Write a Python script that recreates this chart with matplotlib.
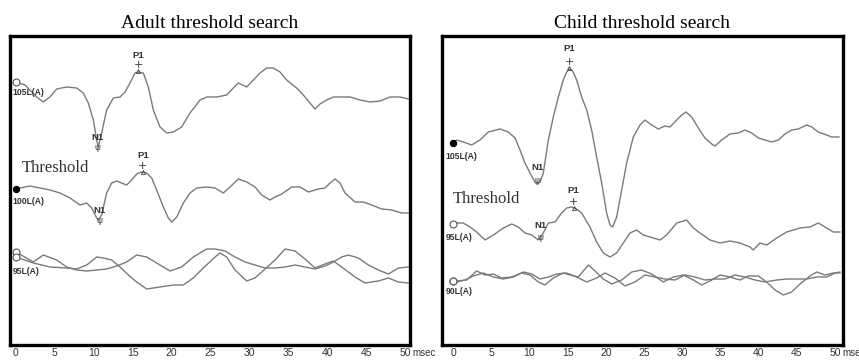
import matplotlib.pyplot as plt

# ---- adult panel (latency in ms, amplitude in arbitrary display units) ----
adult105_t = [0, 1.16, 2.66, 3.51, 4.37, 5.23, 6.51, 7.80, 8.65, 9.30, 9.94, 10.37, 10.58, 11.01,
              11.65, 12.51, 13.37, 14.01, 14.65, 15.30, 15.72, 16.37, 17.01, 17.65, 18.51, 19.37,
              20.22, 21.29, 22.37, 23.65, 24.51, 25.79, 27.08, 27.93, 28.58, 29.65, 30.51, 31.36,
              32.22, 33.08, 33.93, 34.79, 36.07, 36.93, 37.79, 38.43, 39.07, 39.93, 40.79, 41.65,
              42.93, 44.22, 45.50, 46.79, 48.07, 49.36, 50.43]
adult105_v = [278, 275, 263, 258, 263, 271, 273, 272, 267, 257, 240, 220, 213, 227,
              250, 262, 263, 268, 277, 287, 288, 287, 273, 250, 233, 227,
              228, 233, 247, 260, 263, 263, 265, 272, 277, 273, 280, 287,
              292, 292, 288, 280, 272, 265, 257, 251, 256, 260, 263, 263,
              263, 260, 258, 259, 263, 263, 261]

adult100_t = [0, 0.51, 1.80, 3.08, 4.37, 5.66, 6.94, 8.23, 9.08, 9.73, 10.37, 10.58, 11.01, 11.65,
              12.30, 12.94, 13.58, 14.22, 14.87, 15.51, 16.15, 16.80, 17.44, 18.08, 18.94, 19.58,
              20.01, 20.66, 21.51, 22.37, 23.22, 24.51, 25.58, 26.65, 27.51, 28.58, 29.65, 30.72,
              31.58, 32.65, 33.29, 34.15, 35.44, 36.50, 37.58, 38.86, 39.72, 40.36, 41.00, 41.65,
              42.29, 43.57, 44.64, 45.72, 47.00, 48.29, 49.58, 50.43]
adult100_v = [171, 172, 174, 172, 170, 167, 162, 155, 157, 152, 142, 140, 145, 167,
              177, 179, 177, 175, 180, 186, 188, 187, 182, 170, 153, 142,
              138, 143, 157, 167, 172, 173, 172, 167, 173, 181, 178, 173,
              165, 160, 163, 166, 173, 173, 168, 171, 172, 177, 181, 177,
              167, 158, 158, 155, 151, 150, 147, 147]

adult95a_t = [0, 2.23, 3.51, 5.23, 6.51, 7.80, 9.08, 10.37, 11.65, 12.94, 14.22, 15.51, 16.80,
              18.08, 19.79, 21.29, 22.79, 24.51, 25.58, 26.86, 28.15, 29.43, 30.72, 32.01,
              33.29, 34.58, 35.86, 37.15, 38.43, 39.72, 40.79, 41.86, 42.72, 44.00, 45.29,
              46.58, 47.86, 49.15, 50.43]
adult95a_v = [108, 98, 105, 100, 93, 90, 89, 90, 91, 94, 98, 105, 103,
              97, 89, 93, 103, 111, 111, 109, 103, 98, 95, 92,
              92, 93, 95, 93, 91, 94, 98, 103, 105, 102, 95,
              90, 86, 92, 93]

adult95b_t = [0, 2.23, 4.37, 6.51, 7.80, 9.08, 9.73, 10.37, 11.23, 12.30, 13.37, 14.44, 15.51,
              16.80, 18.51, 20.22, 21.51, 22.79, 24.08, 25.58, 26.22, 27.08, 28.15, 29.65,
              30.72, 32.01, 33.29, 34.58, 35.86, 37.15, 38.43, 39.72, 40.79, 41.86, 43.57,
              44.86, 46.58, 47.86, 49.15, 50.43]
adult95b_v = [103, 97, 93, 92, 91, 95, 99, 103, 102, 100, 93, 85, 78,
              71, 73, 75, 75, 82, 92, 103, 107, 103, 90, 79,
              82, 91, 100, 111, 109, 101, 92, 96, 99, 93, 83,
              77, 79, 82, 78, 77]

# ---- child panel ----
child105_t = [0, 0.48, 1.35, 2.44, 3.53, 4.62, 6.15, 7.24, 8.12, 8.77, 9.42, 10.08, 10.73, 10.95,
              11.39, 11.82, 12.48, 13.13, 13.79, 14.44, 14.88, 15.23, 15.66, 16.19, 16.84, 17.50,
              18.15, 18.80, 19.46, 20.11, 20.55, 20.90, 21.42, 22.08, 22.73, 23.60, 24.48, 25.13,
              26.00, 26.88, 27.75, 28.40, 29.28, 29.93, 30.50, 31.24, 32.11, 32.98, 33.86, 34.29,
              35.17, 36.26, 37.35, 38.22, 39.10, 39.97, 40.84, 41.71, 42.58, 43.46, 44.33, 45.20,
              46.29, 46.95, 47.82, 48.91, 49.56, 50.52]
child105_v = [217, 220, 218, 215, 220, 228, 231, 228, 222, 210, 197, 187, 178, 176,
              178, 187, 220, 243, 263, 280, 288, 291, 289, 280, 263, 250,
              230, 203, 177, 147, 135, 133, 143, 170, 197, 223, 235, 240,
              235, 231, 234, 233, 240, 245, 248, 243, 232, 222, 216, 214,
              220, 226, 227, 230, 227, 222, 220, 218, 220, 226, 230, 231,
              235, 233, 228, 225, 223, 223]

child95_t = [0, 0.48, 1.35, 2.23, 3.10, 4.19, 5.28, 6.59, 7.68, 8.55, 9.42, 10.30, 11.17, 11.82,
             12.48, 13.35, 14.22, 14.88, 15.53, 16.19, 16.84, 17.93, 18.80, 19.68, 20.55, 21.42,
             22.29, 23.17, 24.04, 24.91, 25.79, 27.09, 27.97, 29.28, 30.58, 31.46, 32.33, 33.64,
             34.95, 36.26, 37.57, 38.87, 39.31, 40.18, 41.06, 42.36, 43.67, 45.42, 46.73, 47.82,
             48.69, 49.78, 50.65]
child95_v = [136, 137, 137, 133, 128, 120, 125, 132, 136, 133, 127, 125, 120, 127,
             137, 138, 147, 152, 153, 151, 147, 133, 118, 107, 103, 107,
             117, 127, 130, 125, 123, 120, 125, 137, 140, 132, 127, 120,
             117, 119, 117, 113, 110, 117, 115, 122, 128, 132, 133, 137,
             133, 128, 128]

child90a_t = [0, 0.48, 1.79, 3.10, 4.19, 5.28, 6.37, 7.68, 8.99, 10.08, 11.17, 12.04, 13.13,
              14.44, 15.31, 16.40, 17.71, 18.59, 19.68, 20.77, 22.08, 23.39, 24.69, 26.00,
              27.53, 28.84, 30.15, 31.46, 32.55, 33.86, 34.95, 36.26, 37.57, 38.66, 39.97,
              41.06, 42.15, 43.24, 44.33, 45.42, 46.73, 47.60, 48.69, 49.78, 50.65]
child90a_v = [79, 79, 80, 89, 85, 86, 82, 83, 87, 85, 78, 75, 82,
              87, 85, 83, 95, 89, 81, 76, 80, 88, 90, 86,
              78, 83, 85, 80, 75, 80, 85, 83, 80, 84, 84,
              78, 70, 65, 68, 76, 84, 88, 85, 87, 87]

child90b_t = [0, 0.48, 1.57, 2.66, 3.97, 5.28, 6.59, 7.90, 9.21, 10.30, 11.39, 12.48, 13.57,
              14.88, 16.19, 17.50, 18.80, 19.90, 21.20, 22.51, 23.82, 25.13, 26.44, 27.75,
              29.06, 30.37, 31.68, 32.98, 34.29, 35.60, 36.91, 38.22, 39.53, 40.84, 42.36,
              43.67, 44.98, 46.29, 47.60, 48.91, 50.00, 50.65]
child90b_v = [79, 78, 80, 84, 87, 83, 81, 83, 88, 86, 81, 83, 86,
              87, 83, 78, 82, 87, 82, 74, 78, 85, 83, 81,
              80, 85, 83, 80, 81, 81, 85, 83, 80, 78, 80,
              81, 81, 81, 83, 83, 87, 88]

# peak markers: (name, latency, marker amplitude, label amplitude)
adult_peaks = [("P1", 15.7, 295, 305), ("N1", 10.5, 213, 223),
               ("P1", 16.3, 194, 205), ("N1", 10.7, 140, 150)]
child_peaks = [("P1", 15.2, 298, 312), ("N1", 11.1, 180, 193),
               ("P1", 15.8, 158, 170), ("N1", 11.5, 122, 135)]

ticks = [0, 5, 10, 15, 20, 25, 30, 35, 40, 45, 50]
tick_labels = ["0", "5", "10", "15", "20", "25", "30", "35", "40", "45", "50"]

fig = plt.figure(figsize=(8.59, 3.6), dpi=100)
ax1 = fig.add_axes([10 / 859, 15 / 360, 400 / 859, 309 / 360])
ax2 = fig.add_axes([442 / 859, 15 / 360, 401 / 859, 309 / 360])

trace_color = "#7a7a7a"
lab_font = dict(family="Liberation Sans", weight="bold", size=6.2, color="#333333")


def draw_trace(ax, t, v, filled):
    ax.plot(t, v, color=trace_color, lw=1.0)
    if filled:
        ax.plot(t[0], v[0], "o", ms=4.5, mfc="black", mec="black", mew=0.8)
    else:
        ax.plot(t[0], v[0], "o", ms=5, mfc="white", mec="#555555", mew=0.8)


def draw_peaks(ax, peaks):
    for name, t, v, vt in peaks:
        ax.text(t, vt, name, ha="center", va="center", family="Liberation Sans",
                weight="bold", size=6.8, color="#333333")
        if name == "P1":
            ax.text(t, v, "+", ha="center", va="center", color="#333333", size=8)
            ax.plot(t, v - 6, marker="^", ms=3, mfc="none", mec="#444444", mew=0.6)
        else:
            ax.text(t, v, "\u03c8", ha="center", va="center", color="#444444", size=6.5)


# adult
draw_trace(ax1, adult105_t, adult105_v, False)
draw_trace(ax1, adult100_t, adult100_v, True)
draw_trace(ax1, adult95a_t, adult95a_v, False)
draw_trace(ax1, adult95b_t, adult95b_v, False)
draw_peaks(ax1, adult_peaks)
ax1.text(-0.45, 268, "105L(A)", ha="left", va="center", fontdict=lab_font)
ax1.text(-0.45, 159, "100L(A)", ha="left", va="center", fontdict=lab_font)
ax1.text(-0.45, 89, "95L(A)", ha="left", va="center", fontdict=lab_font)
ax1.text(0.8, 192, "Threshold", ha="left", va="center", family="Liberation Serif", size=12,
         color="#333333")
ax1.set_xlim(-0.77, 50.64)
ax1.set_title("Adult threshold search", family="Liberation Serif", size=14, pad=6)

# child
draw_trace(ax2, child105_t, child105_v, True)
draw_trace(ax2, child95_t, child95_v, False)
draw_trace(ax2, child90a_t, child90a_v, False)
draw_trace(ax2, child90b_t, child90b_v, False)
draw_peaks(ax2, child_peaks)
ax2.text(-1.0, 204, "105L(A)", ha="left", va="center", fontdict=lab_font)
ax2.text(-1.0, 123, "95L(A)", ha="left", va="center", fontdict=lab_font)
ax2.text(-1.0, 68, "90L(A)", ha="left", va="center", fontdict=lab_font)
ax2.text(0.0, 161, "Threshold", ha="left", va="center", family="Liberation Serif", size=12,
         color="#333333")
ax2.set_xlim(-1.44, 51.05)
ax2.set_title("Child threshold search", family="Liberation Serif", size=14, pad=6)

for ax in (ax1, ax2):
    ax.set_ylim(15, 324)
    ax.set_yticks([])
    ax.set_xticks(ticks)
    ax.set_xticklabels(tick_labels, family="Liberation Sans", size=7.5, color="#333333")
    ax.tick_params(axis="x", length=0, pad=2.5)
    for s in ax.spines.values():
        s.set_linewidth(2.4)
        s.set_color("black")
    ax.annotate("msec", xy=(50, 0), xycoords=ax.get_xaxis_transform(),
                xytext=(5.5, -2.5), textcoords="offset points", ha="left", va="top",
                family="Liberation Sans", size=7, color="#333333", annotation_clip=False)

fig.savefig("out.png", dpi=100)
